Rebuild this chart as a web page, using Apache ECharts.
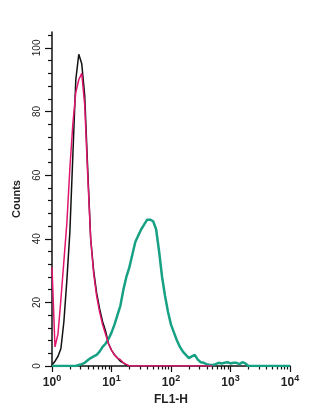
<!DOCTYPE html>
<html>
<head>
<meta charset="utf-8">
<script src="https://cdn.jsdelivr.net/npm/echarts@6/dist/echarts.min.js"></script>
<style>
html,body{margin:0;padding:0;background:#fff;}
#c{width:320px;height:420px;}
</style>
</head>
<body>
<div id="c"></div>
<script>
// Histogram channels: bin centres in log10(FL1-H) units, starting at binStart, spaced binWidth
var binStart = 0;
var binWidth = 0.05;

// Black trace (counts per channel)
var blackCounts = [0.3, 1.5, 3, 5.5, 14, 27, 42, 66, 90, 98, 95, 85, 62, 40, 30, 23, 18, 14, 11, 7, 5, 3.5, 2.5, 1.5, 1, 0.3, 0];

// Pink trace
var pinkCounts = [31, 6, 10, 21, 33, 45, 62, 76, 86, 90, 92, 82, 60, 40, 29, 22, 17, 13, 10, 7, 5, 3.5, 2.5, 2, 1, 0.5, 0,
  0, 0, 0, 0, 0, 0, 0, 0, 0, 0, 0, 0, 0, 0, 0, 0, 0, 0, 0, 0, 0, 0, 0, 0, 0, 0, 0, 0];

// Teal trace
var tealCounts = [0, 0, 0, 0, 0, 0, 0, 0, 0, 0.3, 0.6, 1, 1.8, 2.5, 3, 3.5, 4.5, 6, 7, 8.5,
  10.5, 13, 16, 19, 24, 28, 31, 35, 39, 41, 43, 44.5, 46, 46, 45.5, 43, 36, 28, 22, 17,
  13, 10.5, 8, 6, 4.5, 3.5, 2.5, 3, 3.5, 2, 1.2, 1, 0.6, 0.3, 0.3, 0.6, 1, 0.8, 1, 1.2,
  0.8, 1, 1, 0.6, 1.2, 0.8, 0, 0, 0, 0, 0, 0, 0, 0, 0, 0, 0, 0, 0, 0, 0];

// Axis ticks
var xTickExponents = ['0', '1', '2', '3', '4'];
var yTickLabels = [0, 20, 40, 60, 80, 100];
var yMinorTicks = [4, 8, 12, 16, 24, 28, 32, 36, 44, 48, 52, 56, 64, 68, 72, 76, 84, 88, 92, 96, 104];
var xMinorMultipliers = [2, 3, 4, 5, 6, 7, 8, 9];

function toPairs(arr) {
  return arr.map(function (v, i) { return [binStart + i * binWidth, v]; });
}

var xMinorTicks = [];
for (var d = 0; d < xTickExponents.length - 1; d++) {
  xMinorMultipliers.forEach(function (k) { xMinorTicks.push(d + Math.log10(k)); });
}

var FONT = 'Liberation Sans, Arial, sans-serif';
var chart = echarts.init(document.getElementById('c'), null, {renderer: 'canvas'});

chart.setOption({
  animation: false,
  backgroundColor: '#ffffff',
  grid: {left: 52, right: 30, top: 32, bottom: 54, containLabel: false},
  xAxis: [{
    type: 'value', min: 0, max: 4, interval: 1,
    name: 'FL1-H', nameLocation: 'middle', nameGap: 24,
    nameTextStyle: {fontFamily: FONT, fontSize: 12, fontWeight: 'bold', color: '#222'},
    axisLine: {show: true, lineStyle: {color: '#111', width: 1.5}},
    axisTick: {show: true, inside: false, length: 6, lineStyle: {color: '#111', width: 1.2}},
    splitLine: {show: false},
    axisLabel: {
      margin: 8,
      formatter: function (v) { return '{b|10}{s|' + xTickExponents[Math.round(v)] + '}'; },
      rich: {
        b: {fontFamily: FONT, fontSize: 12, fontWeight: 'bold', color: '#222'},
        s: {fontFamily: FONT, fontSize: 9, fontWeight: 'bold', color: '#222', padding: [0, 0, 8, 0]}
      }
    }
  }, {
    type: 'value', min: 0, max: 4, position: 'bottom', gridIndex: 0,
    axisLine: {show: false},
    axisTick: {show: true, inside: false, length: 3.5, customValues: xMinorTicks, lineStyle: {color: '#111', width: 1.2}},
    axisLabel: {show: false},
    splitLine: {show: false}
  }],
  yAxis: [{
    type: 'value', min: 0, max: 105,
    name: 'Counts', nameLocation: 'middle', nameGap: 30, nameRotate: 90,
    nameTextStyle: {fontFamily: FONT, fontSize: 11, fontWeight: 'bold', color: '#222'},
    axisLine: {show: true, lineStyle: {color: '#111', width: 1.5}},
    axisTick: {show: true, inside: false, length: 7, customValues: yTickLabels, lineStyle: {color: '#111', width: 1.2}},
    splitLine: {show: false},
    axisLabel: {
      customValues: yTickLabels, rotate: 90, margin: 10,
      fontFamily: FONT, fontSize: 10, color: '#222'
    }
  }, {
    type: 'value', min: 0, max: 105, position: 'left',
    axisLine: {show: false},
    axisTick: {show: true, inside: false, length: 4, customValues: yMinorTicks, lineStyle: {color: '#111', width: 1.2}},
    axisLabel: {show: false},
    splitLine: {show: false}
  }],
  series: [{
    type: 'line', name: 'black', data: toPairs(blackCounts), showSymbol: false,
    lineStyle: {color: '#111111', width: 1.5}, z: 2
  }, {
    type: 'line', name: 'teal', data: toPairs(tealCounts), showSymbol: false,
    lineStyle: {color: '#17a184', width: 2.5}, z: 3
  }, {
    type: 'line', name: 'pink', data: toPairs(pinkCounts), showSymbol: false,
    lineStyle: {color: '#e0166f', width: 1.5}, z: 4
  }]
});
</script>
</body>
</html>
